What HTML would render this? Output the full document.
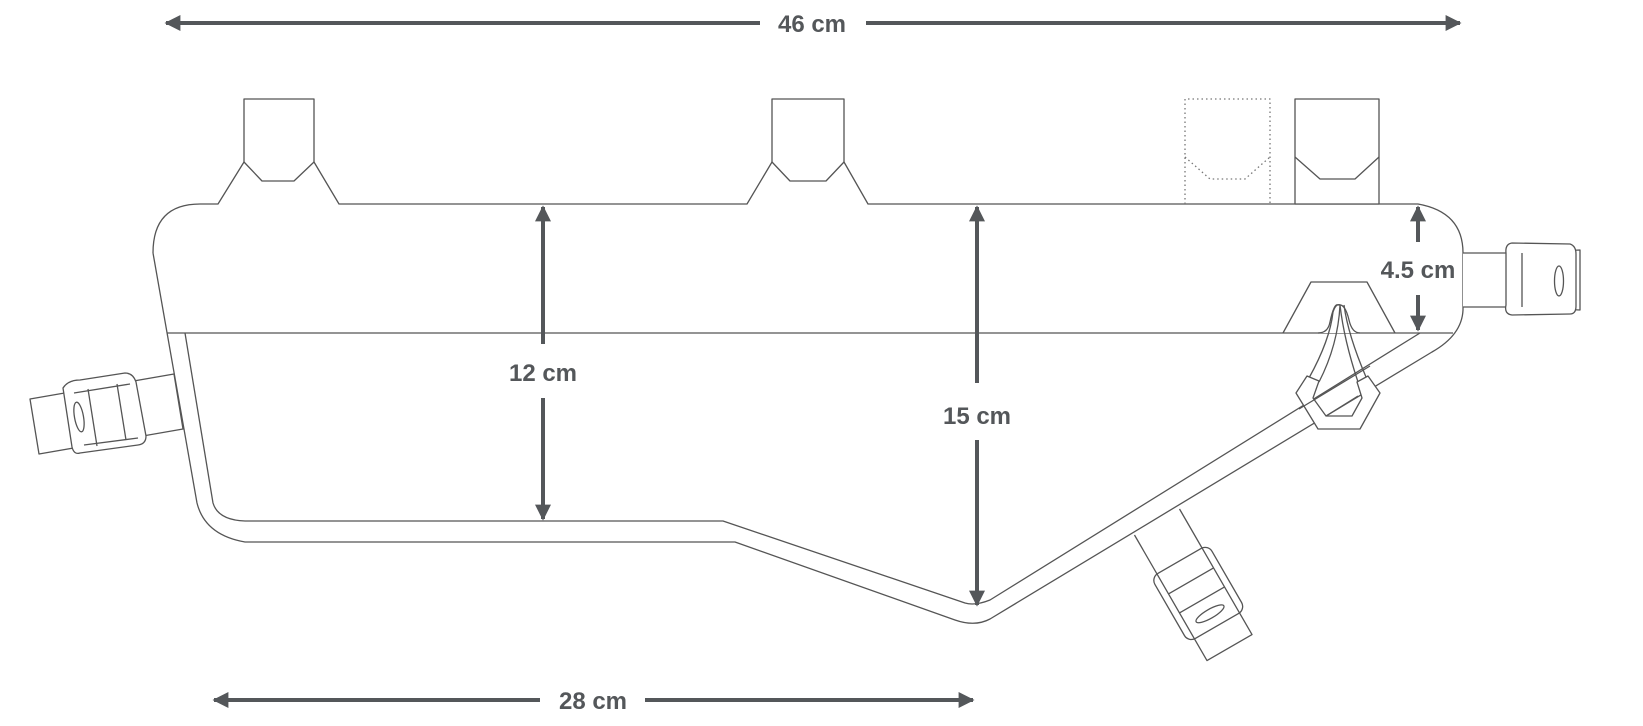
<!DOCTYPE html>
<html><head><meta charset="utf-8"><style>
html,body{margin:0;padding:0;background:#fff;}
svg{display:block}
text{font-family:"Liberation Sans",Arial,sans-serif;font-weight:bold;font-size:24px;fill:#54575a}
</style></head><body>
<svg width="1643" height="726" viewBox="0 0 1643 726" xmlns="http://www.w3.org/2000/svg">
<defs>
<marker id="ah" viewBox="0 0 10 10" refX="9" refY="5" markerWidth="4" markerHeight="4.2" orient="auto-start-reverse" markerUnits="strokeWidth">
<path d="M0,0 L10,5 L0,10 z" fill="#54575a"/></marker>
</defs>
<g fill="none" stroke="#555" stroke-width="1.3" stroke-linejoin="round">
<path d="M153,253 Q153,204 200,204 L218,204 L244,162 L262,181 L294,181 L314,162 L339,204 L747,204 L772,162 L790,181 L826,181 L844,162 L868,204 L1418,204 Q1463,212 1463,253"/>
<path d="M244,162 L244,99 L314,99 L314,162"/>
<path d="M772,162 L772,99 L844,99 L844,162"/>
<rect x="1295" y="99" width="84" height="105" fill="#fff"/>
<path d="M1295,157 L1320,179 L1355,179 L1379,157"/>
<path d="M1185,204 L1185,99 L1270,99 L1270,204 M1185,157 L1210,179 L1245,179 L1270,157" stroke-dasharray="1.5,3" stroke="#777"/>
<path d="M153,253 L197,503 Q205,535 245,542 L735,542 L955,620 Q975,627 990,619 L1432,352 Q1462,335 1463,310 L1463,253"/>
<path d="M167,333 L1453,333"/>
<path d="M185,333 L213,503 Q218,520 245,521 L723,521 L965,603 Q975,606 990,600 L1420,333"/>
<path d="M1283,333 L1311,282 L1367,282 L1395,333"/>
<path d="M1318,333 Q1328,333 1330,322 Q1334,303 1338,305 Q1345,303 1349,320 Q1352,333 1360,333" fill="#fff"/>
<path d="M1309,378 Q1330,340 1333,312 Q1336,303 1340,305"/>
<path d="M1319,382 Q1338,345 1340,305"/>
<path d="M1340,305 Q1344,340 1358,382"/>
<path d="M1344,305 Q1348,335 1366,377"/>
<path d="M1296,393 L1307,376 L1319,381 L1313,398 L1326,416 L1352,416 L1362,398 L1357,382 L1368,376 L1380,393 L1360,429 L1318,429 Z" fill="#fff"/>
<path d="M1299,409 L1370,366 M1326,416 L1358,396"/>
<!-- left buckle -->
<path d="M30,399 L174,374 L183,429 L39,454 Z" fill="#fff"/>
<path d="M63,388 Q68,380 80,380 L125,373 Q133,373 136,382 L146,436 Q146,444 138,445 L80,453 Q74,455 72,447 Z" fill="#fff"/>
<path d="M74,393 L130,384 M84,445 L138,438"/>
<path d="M88,389 L97,446 M117,384 L126,440"/>
<ellipse cx="79" cy="417" rx="4.5" ry="15" transform="rotate(-10 79 417)"/>
<!-- right buckle -->
<path d="M1463,253 L1510,253 L1580,250 L1580,310 L1510,307 L1463,307" fill="#fff"/>
<path d="M1512,243 L1570,244 Q1576,246 1576,254 L1576,306 Q1576,314 1570,314 L1512,315 Q1504,314 1506,305 L1506,253 Q1505,244 1512,243 Z" fill="#fff"/>
<path d="M1522,253 L1522,307"/>
<ellipse cx="1559" cy="281" rx="4.5" ry="15"/>
<!-- bottom buckle -->
<g transform="translate(1157,522) rotate(-30)">
<path d="M-26,0 L-26,145 L26,145 L26,0" fill="#fff"/>
<rect x="-33" y="45" width="66" height="75" rx="8" fill="#fff"/>
<path d="M-26,68 L26,68 M-26,90 L26,90 M-26,45 L-26,120 M26,45 L26,120"/>
<ellipse cx="0" cy="106" rx="16" ry="4.5"/>
</g>
</g>
<g stroke="#54575a" stroke-width="4" fill="none">
<line x1="166" y1="23" x2="760" y2="23" marker-start="url(#ah)"/>
<line x1="866" y1="23" x2="1460" y2="23" marker-end="url(#ah)"/>
<line x1="543" y1="207" x2="543" y2="344" marker-start="url(#ah)"/>
<line x1="543" y1="398" x2="543" y2="519" marker-end="url(#ah)"/>
<line x1="977" y1="207" x2="977" y2="383" marker-start="url(#ah)"/>
<line x1="977" y1="440" x2="977" y2="605" marker-end="url(#ah)"/>
<line x1="1418" y1="207" x2="1418" y2="242" marker-start="url(#ah)"/>
<line x1="1418" y1="295" x2="1418" y2="330" marker-end="url(#ah)"/>
<line x1="214" y1="700" x2="540" y2="700" marker-start="url(#ah)"/>
<line x1="645" y1="700" x2="973" y2="700" marker-end="url(#ah)"/>
</g>
<text x="812" y="32" text-anchor="middle">46 cm</text>
<text x="543" y="381" text-anchor="middle">12 cm</text>
<text x="977" y="424" text-anchor="middle">15 cm</text>
<text x="1418" y="278" text-anchor="middle">4.5 cm</text>
<text x="593" y="709" text-anchor="middle">28 cm</text>
</svg>
</body></html>
